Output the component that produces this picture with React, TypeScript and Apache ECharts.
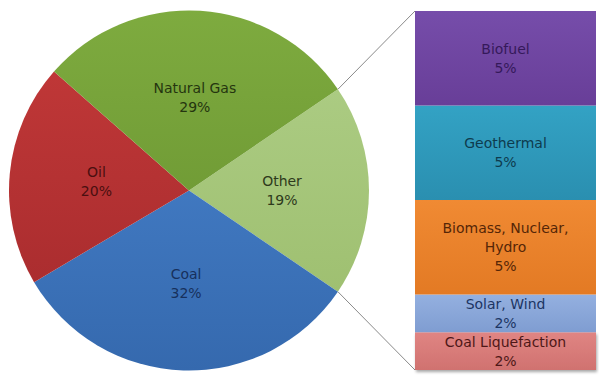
import React, { useEffect, useRef } from "react";
import * as echarts from "echarts";

// Energy mix: main pie, with the "Other" slice broken out into a stacked bar
const pieNames = ["Other", "Coal", "Oil", "Natural Gas"];
const pieValues = [19, 32, 20, 29];

// Breakdown of "Other", listed from the bottom of the bar upwards
const barNames = ["Coal Liquefaction", "Solar, Wind", "Biomass, Nuclear, Hydro", "Geothermal", "Biofuel"];
const barLabels = ["Coal Liquefaction", "Solar, Wind", "Biomass, Nuclear,\nHydro", "Geothermal", "Biofuel"];
const barValues = [2, 2, 5, 5, 5];

const pieColors: Record<string, [string, string, string]> = {
  Other: ["#abcb82", "#9fc071", "#2e3a1c"],
  Coal: ["#4078c0", "#3569ae", "#17305c"],
  Oil: ["#bf3737", "#ab2d2f", "#4a0f10"],
  "Natural Gas": ["#7eab3f", "#719c36", "#25350f"],
};
const barColors: [string, string, string][] = [
  ["#e08583", "#d07270", "#4e1717"],
  ["#94b0e0", "#7f9dd1", "#1c3563"],
  ["#f08a33", "#e37a24", "#552607"],
  ["#33a2c4", "#2a8fb0", "#0e3b4e"],
  ["#764daa", "#683e98", "#35195a"],
];

const FONT = "'DejaVu Sans', sans-serif";
const CENTER: [number, number] = [189, 190.5];
const RADIUS = 180;

const grad = (a: string, b: string) =>
  new echarts.graphic.LinearGradient(0, 0, 0, 1, [
    { offset: 0, color: a },
    { offset: 1, color: b },
  ]);

export default function App() {
  const ref = useRef<HTMLDivElement>(null);

  useEffect(() => {
    document.body.style.margin = "0";
    const chart = echarts.init(ref.current!, null, { renderer: "svg" });
    const total = pieValues.reduce((s, v) => s + v, 0);
    const otherShare = pieValues[0] / total;
    const startAngle = (otherShare * 360) / 2;
    const barTotal = barValues.reduce((s, v) => s + v, 0);

    chart.setOption({
      animation: false,
      backgroundColor: "#ffffff",
      grid: { left: 415, top: 11, width: 181, height: 359, containLabel: false },
      xAxis: { type: "category", data: ["Other"], show: false },
      yAxis: { type: "value", min: 0, max: barTotal, show: false },
      series: [
        {
          type: "pie",
          center: CENTER,
          radius: RADIUS,
          startAngle,
          clockwise: true,
          avoidLabelOverlap: false,
          silent: true,
          label: {
            show: true,
            position: "inside",
            fontFamily: FONT,
            fontSize: 14,
            lineHeight: 19,
            formatter: (p: any) => `${p.name}\n${p.value}%`,
          },
          labelLine: { show: false },
          data: pieNames.map((name, i) => ({
            name,
            value: pieValues[i],
            itemStyle: { color: grad(pieColors[name][0], pieColors[name][1]), borderWidth: 0 },
            label: { color: pieColors[name][2] },
          })),
        },
        ...barNames.map((name, i) => ({
          type: "bar",
          name,
          stack: "other",
          barWidth: "100%",
          silent: true,
          data: [barValues[i]],
          itemStyle: {
            color: grad(barColors[i][0], barColors[i][1]),
            ...(i === 0 ? { shadowColor: "rgba(0,0,0,0.35)", shadowBlur: 3, shadowOffsetY: 2, shadowOffsetX: 1 } : {}),
          },
          label: {
            show: true,
            position: "inside",
            fontFamily: FONT,
            fontSize: 14,
            lineHeight: 19,
            color: barColors[i][2],
            formatter: () => `${barLabels[i]}\n${barValues[i]}%`,
          },
        })),
      ],
    });

    // Connector lines from the edges of the "Other" slice to the bar's corners
    const rad = (startAngle * Math.PI) / 180;
    const px = CENTER[0] + RADIUS * Math.cos(rad);
    const pyTop = CENTER[1] - RADIUS * Math.sin(rad);
    const pyBot = CENTER[1] + RADIUS * Math.sin(rad);
    const topLeft = chart.convertToPixel({ gridIndex: 0 }, [0, barTotal]) as number[];
    const botLeft = chart.convertToPixel({ gridIndex: 0 }, [0, 0]) as number[];
    const barLeft = 415;
    chart.setOption({
      graphic: [
        { type: "line", shape: { x1: px, y1: pyTop, x2: barLeft, y2: topLeft[1] }, style: { stroke: "#8a8a8a", lineWidth: 1 } },
        { type: "line", shape: { x1: px, y1: pyBot, x2: barLeft, y2: botLeft[1] }, style: { stroke: "#8a8a8a", lineWidth: 1 } },
      ],
    });

    return () => chart.dispose();
  }, []);

  return <div ref={ref} style={{ width: 599, height: 376 }} />;
}
